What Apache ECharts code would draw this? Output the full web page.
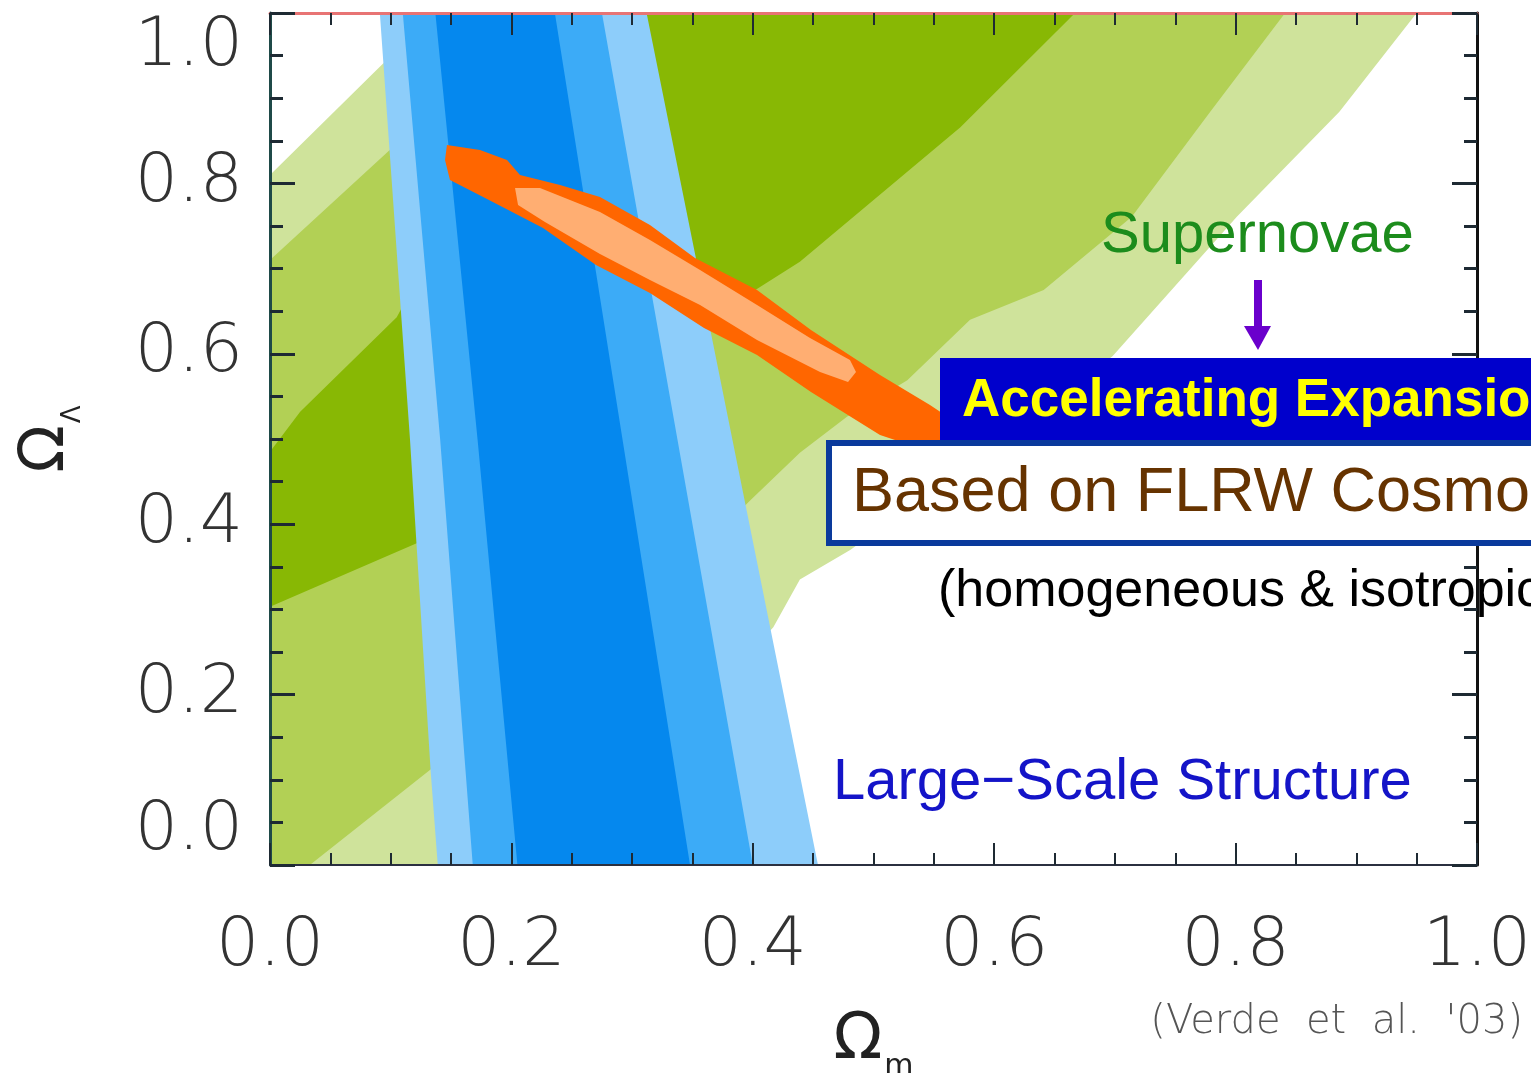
<!DOCTYPE html>
<html>
<head>
<meta charset="utf-8">
<title>Omega_m vs Omega_Lambda constraints</title>
<script src="https://cdn.jsdelivr.net/npm/echarts@6/dist/echarts.min.js"></script>
<style>
  html, body { margin: 0; padding: 0; background: #ffffff; }
  #chart { width: 1531px; height: 1073px; }
</style>
</head>
<body>
<div id="chart"></div>
<script>
// Axis ticks
const xTickLabels = ['0.0', '0.2', '0.4', '0.6', '0.8', '1.0'];
const yTickLabels = ['0.0', '0.2', '0.4', '0.6', '0.8', '1.0'];

// Supernovae confidence regions [Omega_m, Omega_Lambda] (outer to inner)
const sn3Sigma = [[0, 0.810], [0.091, 0.937], [0.137, 1], [0.950, 1], [0.886, 0.884], [0.801, 0.761],
  [0.698, 0.597], [0.588, 0.481], [0.481, 0.370], [0.439, 0.335], [0.417, 0.279], [0.315, 0.123],
  [0.240, 0], [0, 0]];
const sn2Sigma = [[0, 0.710], [0.099, 0.839], [0.207, 1], [0.841, 1], [0.779, 0.884], [0.714, 0.761],
  [0.641, 0.675], [0.580, 0.640], [0.528, 0.569], [0.478, 0.526], [0.439, 0.484], [0.398, 0.428],
  [0.273, 0.252], [0.133, 0.112], [0.033, 0], [0, 0]];
const sn1Sigma = [[0, 0.485], [0.025, 0.532], [0.105, 0.643], [0.240, 1], [0.667, 1], [0.572, 0.866],
  [0.439, 0.708], [0.389, 0.663], [0.356, 0.657], [0.122, 0.378], [0, 0.303]];

// Large-scale structure confidence regions (outer to inner)
const lss3Sigma = [[0.091, 1], [0.312, 1], [0.454, 0], [0.139, 0], [0.133, 0.112], [0.116, 0.499]];
const lss2Sigma = [[0.110, 1], [0.275, 1], [0.400, 0], [0.168, 0], [0.141, 0.499]];
const lss1Sigma = [[0.137, 1], [0.236, 1], [0.348, 0], [0.205, 0], [0.172, 0.499]];

// Combined constraint (outer and inner contour)
const combinedOuter = [[0.1466, 0.8451], [0.1740, 0.8392], [0.1964, 0.8275], [0.2071, 0.8099],
  [0.2403, 0.7981], [0.2734, 0.7840], [0.3148, 0.7512], [0.3521, 0.7124], [0.4035, 0.6749],
  [0.4482, 0.6279], [0.5054, 0.5751], [0.5468, 0.5399], [0.5717, 0.5164], [0.5758, 0.4930],
  [0.5551, 0.4812], [0.5054, 0.5047], [0.4482, 0.5552], [0.4035, 0.5986], [0.3596, 0.6303],
  [0.3148, 0.6714], [0.2701, 0.7042], [0.2262, 0.7477], [0.1814, 0.7805], [0.1491, 0.8040],
  [0.1450, 0.8275]];
const combinedInner = [[0.2030, 0.7946], [0.2237, 0.7946], [0.2734, 0.7664], [0.3148, 0.7336],
  [0.3563, 0.6984], [0.4035, 0.6573], [0.4474, 0.6185], [0.4805, 0.5927], [0.4855, 0.5786],
  [0.4789, 0.5669], [0.4557, 0.5786], [0.4035, 0.6162], [0.3563, 0.6573], [0.3148, 0.6866],
  [0.2734, 0.7171], [0.2278, 0.7547], [0.2055, 0.7746]];

const tickFont = '"DejaVu Sans", "Liberation Sans", sans-serif';
const textFont = '"Liberation Sans", Arial, Helvetica, sans-serif';

// One filled contour drawn as a polygon through the cartesian axes
function contour(name, pts, color) {
  return {
    type: 'custom',
    name: name,
    coordinateSystem: 'cartesian2d',
    silent: true,
    clip: true,
    data: pts,
    encode: { x: 0, y: 1 },
    renderItem: function (params, api) {
      if (params.dataIndex !== 0) return null;
      return {
        type: 'polygon',
        shape: { points: pts.map(function (p) { return api.coord(p); }) },
        style: { fill: color }
      };
    }
  };
}

function tickIndex(v) { return Math.round(v / 0.2); }

const chart = echarts.init(document.getElementById('chart'), null, { renderer: 'canvas' });

const option = {
  backgroundColor: '#ffffff',
  animation: false,
  grid: { left: 270, top: 13, right: 54, bottom: 208, containLabel: false, outerBoundsMode: 'none' },
  xAxis: [
    {
      type: 'value', min: 0, max: 1, interval: 0.2, position: 'bottom', z: 10,
      axisLine: { show: true, onZero: false, lineStyle: { color: '#2b3040', width: 2 } },
      axisTick: { show: true, inside: true, length: 22, lineStyle: { color: '#1e2a33', width: 2 } },
      minorTick: { show: true, splitNumber: 4, length: 12, lineStyle: { color: '#1e2a33', width: 2 } },
      splitLine: { show: false }, minorSplitLine: { show: false },
      axisLabel: {
        margin: 48, fontSize: 68, fontFamily: tickFont, fontWeight: 200, color: '#333333',
        formatter: function (v) { return xTickLabels[tickIndex(v)]; }
      },
      name: '{o|Ω}{s|m}', nameLocation: 'middle', nameGap: 141,
      nameTextStyle: {
        rich: {
          o: { fontSize: 64, fontFamily: tickFont, color: '#222222', lineHeight: 70 },
          s: { fontSize: 30, fontFamily: tickFont, color: '#222222', verticalAlign: 'bottom', lineHeight: 30, padding: [0, 0, -6, 2] }
        }
      }
    },
    {
      type: 'value', min: 0, max: 1, interval: 0.2, position: 'top', z: 10,
      axisLine: { show: true, onZero: false, lineStyle: { color: '#e87474', width: 3 } },
      axisTick: { show: true, inside: true, length: 22, lineStyle: { color: '#1e2a33', width: 2 } },
      minorTick: { show: true, splitNumber: 4, length: 12, lineStyle: { color: '#1e2a33', width: 2 } },
      splitLine: { show: false }, axisLabel: { show: false }
    }
  ],
  yAxis: [
    {
      type: 'value', min: 0, max: 1, interval: 0.2, position: 'left', z: 10,
      axisLine: { show: true, onZero: false, lineStyle: { color: '#1f4a48', width: 3 } },
      axisTick: { show: true, inside: true, length: 25, lineStyle: { color: '#1e2a33', width: 3 } },
      minorTick: { show: true, splitNumber: 4, length: 13, lineStyle: { color: '#1e2a33', width: 3 } },
      splitLine: { show: false }, minorSplitLine: { show: false },
      axisLabel: {
        margin: 27, fontSize: 68, fontFamily: tickFont, fontWeight: 200, color: '#333333',
        verticalAlignMinLabel: 'bottom', verticalAlignMaxLabel: 'top',
        formatter: function (v) { return yTickLabels[tickIndex(v)]; }
      },
      name: '{o|Ω}{s|Λ}', nameLocation: 'middle', nameGap: 188, nameRotate: 90,
      nameTextStyle: {
        rich: {
          o: { fontSize: 62, fontFamily: tickFont, color: '#222222', lineHeight: 70 },
          s: { fontSize: 26, fontFamily: tickFont, color: '#222222', verticalAlign: 'bottom', lineHeight: 26, padding: [0, 0, -4, 2] }
        }
      }
    },
    {
      type: 'value', min: 0, max: 1, interval: 0.2, position: 'right', z: 10,
      axisLine: { show: true, onZero: false, lineStyle: { color: '#111111', width: 3 } },
      axisTick: { show: true, inside: true, length: 25, lineStyle: { color: '#1e2a33', width: 3 } },
      minorTick: { show: true, splitNumber: 4, length: 13, lineStyle: { color: '#1e2a33', width: 3 } },
      splitLine: { show: false }, axisLabel: { show: false }
    }
  ],
  series: [
    contour('Supernovae 3σ', sn3Sigma, '#cfe39b'),
    contour('Supernovae 2σ', sn2Sigma, '#b2d055'),
    contour('Supernovae 1σ', sn1Sigma, '#88b804'),
    contour('LSS 3σ', lss3Sigma, '#8dcdfa'),
    contour('LSS 2σ', lss2Sigma, '#3cabf7'),
    contour('LSS 1σ', lss1Sigma, '#0588ee'),
    contour('Combined outer', combinedOuter, '#ff6600'),
    contour('Combined inner', combinedInner, '#ffae72')
  ],
  graphic: [
    { type: 'text', z: 100, x: 1101, y: 236,
      style: { text: 'Supernovae', font: '58px ' + textFont, fill: '#1c8c1c', align: 'left', verticalAlign: 'middle', textAlign: 'left', textVerticalAlign: 'middle' } },
    { type: 'line', z: 100, shape: { x1: 1258, y1: 280, x2: 1258, y2: 330 }, style: { stroke: '#6a00cc', lineWidth: 8 } },
    { type: 'polygon', z: 100, shape: { points: [[1244, 326], [1271, 326], [1258, 350]] }, style: { fill: '#6a00cc' } },
    { type: 'rect', z: 100, shape: { x: 940, y: 358, width: 620, height: 84 }, style: { fill: '#0000cc' } },
    { type: 'text', z: 101, x: 962, y: 401,
      style: { text: 'Accelerating Expansion', font: 'bold 53px ' + textFont, fill: '#ffff00', align: 'left', verticalAlign: 'middle', textAlign: 'left', textVerticalAlign: 'middle' } },
    { type: 'rect', z: 102, shape: { x: 829, y: 443, width: 760, height: 100 }, style: { fill: '#ffffff', stroke: '#0a3a9c', lineWidth: 6 } },
    { type: 'text', z: 103, x: 852, y: 494,
      style: { text: 'Based on FLRW Cosmology', font: '63px ' + textFont, fill: '#663300', align: 'left', verticalAlign: 'middle', textAlign: 'left', textVerticalAlign: 'middle' } },
    { type: 'text', z: 100, x: 938, y: 592,
      style: { text: '(homogeneous & isotropic)', font: '52px ' + textFont, fill: '#000000', align: 'left', verticalAlign: 'middle', textAlign: 'left', textVerticalAlign: 'middle' } },
    { type: 'text', z: 100, x: 833, y: 783,
      style: { text: 'Large\u2212Scale Structure', font: '58px ' + textFont, fill: '#1414c8', align: 'left', verticalAlign: 'middle', textAlign: 'left', textVerticalAlign: 'middle' } },
    { type: 'text', z: 100, x: 1523, y: 1023,
      style: { text: "(Verde  et  al.  '03)", font: '200 40px ' + tickFont, fill: '#555555', align: 'right', verticalAlign: 'middle', textAlign: 'right', textVerticalAlign: 'middle' } }
  ]
};

chart.setOption(option);
</script>
</body>
</html>
